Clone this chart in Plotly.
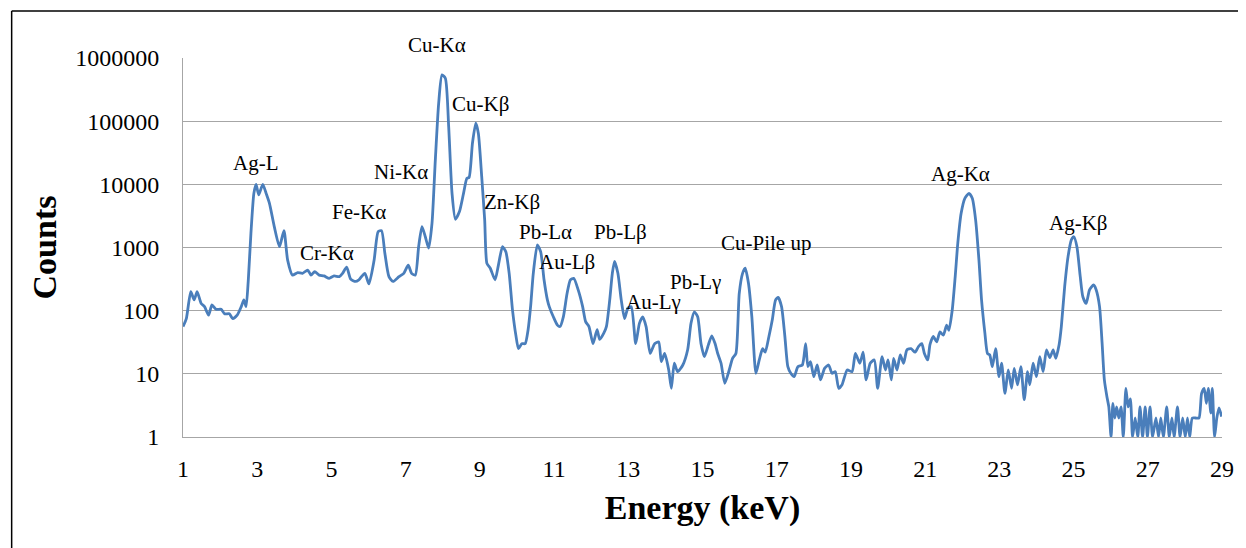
import math
import plotly.graph_objects as go

energy_kev = [
    1.00, 1.09, 1.21, 1.30, 1.38, 1.49, 1.58, 1.69, 1.78, 1.89, 2.03, 2.12, 2.25, 2.34, 2.46, 2.57, 2.64, 2.70,
    2.76, 2.83, 2.91, 2.97, 3.04, 3.15, 3.24, 3.33, 3.46, 3.60, 3.72, 3.82, 3.95, 4.09, 4.22, 4.36, 4.45, 4.55,
    4.67, 4.80, 4.94, 5.07, 5.21, 5.30, 5.41, 5.52, 5.65,
    5.74, 5.90, 6.01, 6.15, 6.26, 6.35, 6.44, 6.55, 6.66, 6.82, 6.95, 7.07, 7.16, 7.26, 7.35, 7.44, 7.53, 7.62,
    7.71, 7.80, 7.89, 7.98, 8.07, 8.16, 8.25, 8.34, 8.45, 8.56, 8.65, 8.71, 8.80, 8.89, 8.96, 9.05, 9.13, 9.19,
    9.28, 9.41, 9.50, 9.61, 9.70, 9.79, 9.88, 9.97, 10.04, 10.13, 10.22,
    10.30, 10.37, 10.44, 10.55, 10.64, 10.73, 10.82, 10.87, 10.98, 11.09, 11.16, 11.25, 11.35, 11.44, 11.53,
    11.65, 11.77, 11.85, 11.94, 12.05, 12.16, 12.23, 12.34, 12.41, 12.50, 12.57, 12.63, 12.72, 12.81, 12.90,
    12.99, 13.08, 13.20, 13.30, 13.39, 13.48, 13.59, 13.71, 13.82, 13.89, 13.98, 14.09, 14.16, 14.24, 14.33,
    14.47, 14.60, 14.69, 14.78, 14.87, 14.96,
    15.05, 15.16, 15.25, 15.34, 15.41, 15.50, 15.60, 15.72, 15.81, 15.90, 15.99, 16.08, 16.15, 16.24, 16.33,
    16.44, 16.53, 16.62, 16.69, 16.79, 16.88, 16.97, 17.04, 17.13, 17.22, 17.30, 17.38, 17.47, 17.57, 17.69,
    17.78, 17.84, 17.91, 18.00, 18.09, 18.18, 18.29, 18.40, 18.49, 18.58, 18.67, 18.76, 18.90, 19.03, 19.12,
    19.24, 19.33, 19.41, 19.52, 19.63, 19.72,
    19.84, 19.93, 20.00, 20.09, 20.15, 20.24, 20.33, 20.42, 20.51, 20.62, 20.73, 20.82, 20.91, 20.98, 21.07,
    21.13, 21.22, 21.31, 21.40, 21.49, 21.58, 21.64, 21.73, 21.81, 21.88, 21.97, 22.07, 22.18, 22.27, 22.36,
    22.45, 22.52, 22.61, 22.68, 22.74, 22.81, 22.90, 22.99, 23.06, 23.15, 23.24, 23.33, 23.40, 23.49, 23.58,
    23.67, 23.76, 23.82, 23.91, 24.00, 24.09, 24.18, 24.27, 24.36, 24.45, 24.52, 24.61,
    24.67, 24.76, 24.85, 24.94, 25.01, 25.09, 25.18, 25.25, 25.34, 25.43, 25.54, 25.61, 25.70, 25.77, 25.83,
    25.90, 25.95, 26.01, 26.06, 26.11, 26.16, 26.22, 26.28, 26.34, 26.41, 26.47, 26.53, 26.59, 26.66, 26.73,
    26.79, 26.86, 26.93, 26.99, 27.06, 27.13, 27.22, 27.29, 27.35, 27.42, 27.51, 27.58, 27.65, 27.71, 27.80,
    27.87, 27.94, 28.01, 28.07, 28.13, 28.20, 28.29, 28.38, 28.45, 28.52, 28.58, 28.63, 28.70, 28.74, 28.80,
    28.86, 28.92, 28.99,
]

counts = [
    56, 75, 200, 148, 200, 130, 116, 85, 123, 105, 105, 89, 89, 75, 85, 116, 148, 116,
    308, 1660, 7200, 10000, 6800, 10000, 7200, 5000, 2140, 1030, 1850, 630, 365, 400, 390, 440, 365, 415,
    365, 355, 325, 355, 345, 390, 490, 315, 290,
    308, 390, 265, 630, 1780, 1850, 810, 345, 290, 345, 390, 525, 390, 365, 1030, 2140, 1480, 975,
    2400, 24400, 191000, 540000, 478000, 81000, 7200, 2800, 3700, 7200, 12400, 12900, 44600, 93000, 64000, 13200, 2740, 560,
    470, 308, 525, 1030, 855, 390, 102, 41, 25, 30, 30,
    50, 120, 390, 1100, 855, 308, 148, 116, 80, 59, 56, 80, 187, 308, 325,
    213, 116, 67, 56, 30, 50, 35, 44, 56, 148, 390, 600, 390, 148, 75,
    110, 116, 30, 63, 80, 56, 21, 30, 32, 15.6, 21, 11.5, 5.9, 14.7, 10.8,
    13.8, 24, 63, 96, 80, 30,
    18.7, 29, 40, 30, 21, 14.7, 7.1, 11.5, 17.6, 21, 187, 390, 470, 270, 80,
    10.2, 16.6, 25, 22, 39, 71, 148, 162, 116, 39, 13, 10.2, 9, 13, 13.8,
    30, 13, 15.6, 9, 13.8, 8, 12.2, 13.8, 10.2, 10.8, 5.9, 6.7, 11.5, 10.8, 21,
    14.7, 22, 8, 14.7, 16.6, 5.9,
    18.7, 11.5, 16.6, 8, 17.6, 11.5, 20, 14.7, 24, 25, 22, 27, 30, 21, 16.6,
    29, 39, 32, 46, 41, 59, 49, 102, 345, 1170, 3470, 6000, 7200, 6000, 2740,
    630, 148, 44, 21, 20, 13, 25, 9, 14.7, 4.9, 11.5, 5.9, 12.2, 6.7, 13,
    3.9, 10.8, 6.7, 14.7, 9, 18.7, 10.8, 24, 18, 24, 17.6, 29,
    56, 240, 710, 1320, 1480, 1030, 345, 166, 130, 213, 255, 213, 116, 30, 8,
    4.3, 3, 1, 3.4, 2, 3, 2, 3, 1, 5.9, 3, 4, 1, 2, 1,
    3, 1, 3, 1, 3, 1, 2, 1, 2, 1, 3, 1, 2, 1, 3,
    1, 2, 1, 2, 1, 2, 2, 2, 4.9, 5.9, 3.4, 5.9, 2.4, 5.9, 1,
    2, 2.9, 2.1,
]

peak_labels = ["Ag-L", "Cr-Kα", "Fe-Kα", "Ni-Kα", "Cu-Kα", "Cu-Kβ", "Zn-Kβ", "Pb-Lα", "Au-Lβ",
               "Pb-Lβ", "Au-Lγ", "Pb-Lγ", "Cu-Pile up", "Ag-Kα", "Ag-Kβ"]
peak_label_x = [2.96, 4.89, 5.75, 6.88, 7.85, 9.03, 9.86, 10.77, 11.34, 12.79, 13.67, 14.80, 16.70, 21.94, 25.13]
peak_label_y = [21900, 810, 3630, 15500, 1620000, 186000, 5250, 1780, 590, 1780, 138, 282, 1170, 14500, 2450]

x_ticks = list(range(1, 30, 2))
y_ticks = [1, 10, 100, 1000, 10000, 100000, 1000000]

serif = "Liberation Serif, Times New Roman, serif"

fig = go.Figure()
fig.add_trace(go.Scatter(
    x=energy_kev, y=counts, mode="lines",
    line=dict(color="#4a7ebb", width=2.8, shape="spline", smoothing=0.6),
    hoverinfo="x+y", showlegend=False,
))

for lab, lx, ly in zip(peak_labels, peak_label_x, peak_label_y):
    fig.add_annotation(x=lx, xref="x", y=math.log10(ly) / 6, yref="paper", text=lab, showarrow=False,
                       xanchor="center", yanchor="middle",
                       font=dict(family=serif, size=21, color="#000000"))

# page body has an 8px margin: shrink the figure so the plot lands where the reference has it
W, H = 1238, 540
fig.update_layout(
    width=W, height=H,
    margin=dict(l=175, r=20, t=50, b=111),
    paper_bgcolor="white", plot_bgcolor="white",
    font=dict(family=serif, color="#000000"),
    xaxis=dict(
        range=[1, 29], tickvals=x_ticks, ticktext=[str(v) for v in x_ticks],
        showgrid=False, zeroline=False, showline=True, linecolor="#a6a6a6", linewidth=1,
        ticks="", tickfont=dict(family=serif, size=24, color="#000000"),
        ticklabelstandoff=10,
        title=dict(text="<b>Energy (keV)</b>", font=dict(family=serif, size=34, color="#000000"), standoff=14),
    ),
    yaxis=dict(
        type="log", range=[0, 6], tickvals=y_ticks, ticktext=[str(v) for v in y_ticks],
        showgrid=True, gridcolor="#a6a6a6", gridwidth=1, zeroline=False,
        showline=True, linecolor="#a6a6a6", linewidth=1,
        ticks="", tickfont=dict(family=serif, size=24, color="#000000"),
        ticklabelstandoff=18,
        title=dict(text="<b>Counts</b>", font=dict(family=serif, size=34, color="#000000"), standoff=8),
    ),
    shapes=[
        dict(type="line", xref="paper", yref="paper", x0=-172/1043, x1=1.2, y0=(426)/379, y1=(426)/379,
             line=dict(color="#000000", width=1.5)),
        dict(type="line", xref="paper", yref="paper", x0=-172/1043, x1=-172/1043, y0=(426)/379, y1=-0.4,
             line=dict(color="#000000", width=1.5)),
    ],
)

fig.write_html("out.html")
